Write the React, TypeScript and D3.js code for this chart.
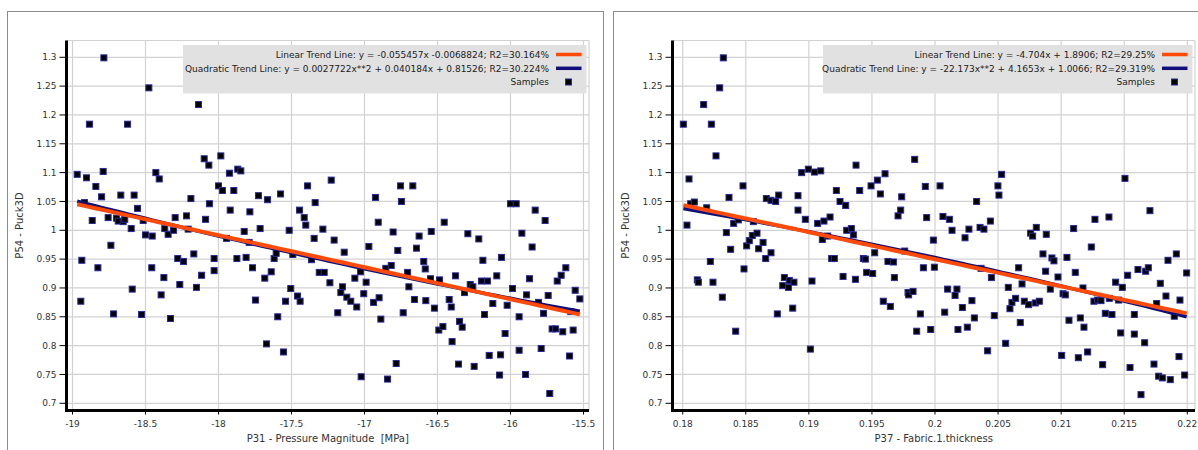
import React from 'react';
import * as d3 from 'd3';

// ---------- data ----------
const leftX = [
  -18.785, -18.477, -18.884, -18.623, -18.137, -18.968, -18.904, -18.84, -18.79, -18.801, -18.669, -18.578, -18.429, -18.406,
  -18.189, -18.0, -17.973, -17.925, -17.895, -18.098, -18.066, -17.984, -17.868, -17.847, -17.726, -17.664, -17.575, -17.39,
  -18.918, -18.865, -18.756, -18.699, -18.687, -18.653, -18.642, -18.555, -18.598, -18.516, -18.5, -18.454, -18.368, -18.345,
  -18.308, -18.297, -18.219, -18.208, -18.089, -18.062, -17.92, -17.945, -17.824, -17.785, -17.79, -17.715, -17.516, -17.445,
  -17.413, -17.402, -17.338, -17.345, -18.737, -18.936, -18.826, -18.591, -18.943, -18.719, -18.527, -18.457, -18.374, -18.393,
  -18.329, -18.279, -18.24, -18.265, -18.169, -18.151, -18.116, -18.03, -18.03, -17.874, -17.811, -17.767, -17.747, -17.683,
  -17.639, -17.619, -17.605, -17.594, -17.671, -17.555, -17.541, -17.505, -17.459, -17.441, -17.491, -17.363, -17.31,
  -17.228, -17.285, -17.208, -17.139, -17.276, -17.237, -17.183, -17.066, -17.027, -16.989, -17.151, -17.162, -17.121, -17.094,
  -17.053, -17.005, -16.97, -16.925, -16.906, -16.938, -16.9, -16.888, -16.854, -16.817, -16.804, -16.772, -16.753, -16.747,
  -16.669, -16.705, -16.696, -16.735, -16.783, -17.023, -16.842, -16.644, -16.626, -16.658, -16.594, -16.584, -16.58, -16.543,
  -16.548, -16.521, -16.491, -16.463, -16.486, -16.454, -16.42, -16.406, -16.4, -16.377, -16.356, -16.349, -16.331, -16.315,
  -16.292, -16.276, -16.258, -16.249, -16.217, -16.199, -16.189, -16.178, -16.158, -16.146, -16.121, -16.094, -16.075, -16.068,
  -16.062, -16.037, -16.023, -16.0, -15.961, -15.986, -15.941, -15.941, -15.922, -15.897, -15.89, -15.87, -15.852, -15.831,
  -15.808, -15.79, -15.774, -15.763, -15.742, -15.731, -15.715, -15.692, -15.68, -15.653, -15.642, -15.621, -15.596, -15.587,
  -15.571, -15.557, -15.525,
];
const leftY = [
  1.299, 1.247, 1.184, 1.184, 1.218, 1.097, 1.091, 1.076, 1.102, 1.058, 1.061, 1.061, 1.1, 1.089,
  1.055, 1.077, 1.069, 1.099, 1.069, 1.124, 1.113, 1.129, 1.106, 1.103, 1.06, 1.053, 1.063, 1.077,
  1.048, 1.017, 1.022, 1.021, 1.016, 1.015, 1.019, 1.038, 1.003, 1.017, 0.992, 0.99, 1.003, 0.993,
  1.0, 1.022, 1.025, 1.002, 1.019, 1.046, 1.035, 0.986, 0.998, 1.032, 0.979, 1.003, 1.0, 1.035,
  1.022, 1.009, 1.048, 0.986, 0.974, 0.948, 0.935, 0.898, 0.877, 0.855, 0.854, 0.935, 0.918, 0.888,
  0.847, 0.951, 0.946, 0.906, 0.959, 0.901, 0.922, 0.951, 0.93, 0.951, 0.953, 0.935, 0.879, 0.917,
  0.928, 0.951, 0.96, 0.85, 0.803, 0.789, 0.877, 0.899, 0.886, 0.877, 0.958, 0.949, 0.927,
  1.087, 1.002, 0.983, 0.962, 0.927, 0.909, 0.857, 0.917, 0.928, 0.91, 0.902, 0.892, 0.884, 0.877,
  0.867, 0.89, 0.972, 1.057, 1.014, 0.875, 0.883, 0.846, 0.934, 0.939, 0.997, 0.965, 1.077, 1.05,
  1.077, 0.927, 0.902, 0.857, 0.769, 0.746, 0.742, 0.969, 0.99, 0.88, 0.946, 0.933, 0.878, 0.998,
  0.916, 0.865, 0.827, 0.833, 0.914, 1.014, 0.88, 0.867, 0.807, 0.921, 0.768, 0.842, 0.832, 0.892,
  0.994, 0.906, 0.902, 0.764, 0.985, 0.912, 0.948, 0.854, 0.912, 0.783, 0.873, 0.921, 0.749, 0.784,
  0.953, 0.821, 0.87, 1.046, 1.046, 0.899, 0.85, 0.792, 0.995, 0.75, 0.888, 0.916, 0.971, 1.035,
  0.875, 0.795, 0.856, 1.017, 0.887, 0.717, 0.829, 0.829, 0.912, 0.922, 0.824, 0.935, 0.782, 0.859,
  0.827, 0.896, 0.881,
];

const rightX = [
  0.18322, 0.18293, 0.18166, 0.18005, 0.18227, 0.18264, 0.1805, 0.18478, 0.18367, 0.18943, 0.18996, 0.19044, 0.19094, 0.19374,
  0.19839, 0.18914, 0.18663, 0.187, 0.18737, 0.18761, 0.19218, 0.19247, 0.19403, 0.19493, 0.19543, 0.19604, 0.19567, 0.19736,
  0.19923,
  0.18063, 0.18092, 0.1819, 0.18034, 0.18404, 0.18441, 0.18346, 0.1838, 0.18219, 0.18116, 0.18124, 0.1824, 0.18314, 0.1842,
  0.18486, 0.18507, 0.18528, 0.18552, 0.18589, 0.1856, 0.18602, 0.18637, 0.18658, 0.187, 0.18914, 0.18972, 0.18806, 0.18793,
  0.18838, 0.18845, 0.18882, 0.1875, 0.18872, 0.19025, 0.19012, 0.1907, 0.1912, 0.19168, 0.19107, 0.19149, 0.19292, 0.193,
  0.19337, 0.19353, 0.19181, 0.19202, 0.19271, 0.19369, 0.19432, 0.19448, 0.19458, 0.19506, 0.19522, 0.1959, 0.19646, 0.19627,
  0.1967, 0.19678, 0.19707, 0.19728, 0.1976, 0.19786, 0.19791, 0.19826, 0.19884, 0.19855, 0.19908, 0.19987, 0.19934, 0.19966,
  0.19995,
  0.2004, 0.20063, 0.20114, 0.20135, 0.20238, 0.20269, 0.2033, 0.20357, 0.20388, 0.20439, 0.20499, 0.20507, 0.20528, 0.20758,
  0.20774, 0.20803, 0.20882, 0.21099, 0.21268, 0.21379, 0.21506, 0.21704,
  0.201, 0.20174, 0.20159, 0.20077, 0.20217, 0.20293, 0.20182, 0.20256, 0.20312, 0.2047, 0.20417, 0.20447, 0.20365, 0.20581,
  0.20594, 0.2061, 0.20639, 0.20663, 0.2069, 0.20676, 0.2056, 0.20708, 0.20742, 0.20795, 0.20827, 0.20856, 0.20877, 0.20927,
  0.20943, 0.20914, 0.20975, 0.21004, 0.21015, 0.21033, 0.21046, 0.21062, 0.21112, 0.21152, 0.21173, 0.21181, 0.21136, 0.2121,
  0.21239, 0.2126, 0.21289, 0.21316, 0.21329, 0.2135, 0.21403, 0.21382, 0.21432, 0.21456, 0.21472, 0.21485, 0.21527, 0.21546,
  0.2158, 0.2158, 0.21609, 0.21633, 0.21662, 0.2167, 0.21691, 0.21736, 0.21757, 0.21773, 0.21802, 0.21786, 0.21831, 0.21847,
  0.21865, 0.21897, 0.21913, 0.21934, 0.21942, 0.21979, 0.21995,
];
const rightY = [
  1.299, 1.247, 1.218, 1.184, 1.184, 1.129, 1.089, 1.077, 1.057, 1.1, 1.106, 1.101, 1.103, 1.113,
  1.123, 1.06, 1.055, 1.052, 1.05, 1.061, 1.069, 1.05, 1.069, 1.077, 1.087, 1.098, 1.063, 1.058,
  1.076,
  1.046, 1.049, 1.039, 1.009, 1.012, 1.018, 0.996, 0.967, 0.946, 0.914, 0.91, 0.91, 0.884, 0.825,
  0.933, 0.973, 0.982, 0.991, 0.995, 1.015, 0.968, 0.979, 0.951, 0.961, 1.035, 1.019, 0.918, 0.904,
  0.901, 0.913, 0.91, 0.855, 0.865, 0.912, 0.794, 1.012, 1.016, 1.023, 0.984, 0.99, 1.043, 1.0,
  1.003, 0.992, 0.951, 0.951, 0.92, 0.915, 0.951, 0.95, 0.927, 0.925, 0.961, 0.877, 0.868, 0.946,
  0.945, 0.918, 1.025, 1.035, 0.964, 0.892, 0.888, 0.894, 0.855, 0.825, 0.935, 0.983, 1.022, 0.828,
  0.936,
  1.077, 1.024, 1.019, 1.0, 0.987, 1.002, 1.05, 1.005, 1.002, 1.016, 1.077, 1.061, 1.097, 0.995,
  0.99, 1.005, 0.993, 1.003, 1.019, 1.023, 1.09, 1.034,
  0.898, 0.898, 0.887, 0.858, 0.866, 0.878, 0.828, 0.832, 0.848, 0.852, 0.791, 0.918, 0.934, 0.901,
  0.864, 0.875, 0.882, 0.935, 0.907, 0.84, 0.804, 0.877, 0.871, 0.874, 0.877, 0.959, 0.929, 0.952,
  0.947, 0.898, 0.919, 0.783, 0.89, 0.888, 0.953, 0.844, 0.927, 0.848, 0.9, 0.832, 0.779, 0.789,
  0.971, 0.877, 0.879, 0.878, 0.767, 0.856, 0.854, 0.882, 0.91, 0.879, 0.822, 0.901, 0.922, 0.762,
  0.854, 0.82, 0.932, 0.715, 0.805, 0.929, 0.935, 0.768, 0.873, 0.747, 0.744, 0.908, 0.886, 0.948,
  0.741, 0.851, 0.959, 0.781, 0.879, 0.749, 0.926,
];

const yTicks = [0.7, 0.75, 0.8, 0.85, 0.9, 0.95, 1, 1.05, 1.1, 1.15, 1.2, 1.25, 1.3];
const yTickLabels = ['0.7', '0.75', '0.8', '0.85', '0.9', '0.95', '1', '1.05', '1.1', '1.15', '1.2', '1.25', '1.3'];
const leftXTicks = [-19, -18.5, -18, -17.5, -17, -16.5, -16, -15.5];
const leftXTickLabels = ['-19', '-18.5', '-18', '-17.5', '-17', '-16.5', '-16', '-15.5'];
const rightXTicks = [0.18, 0.185, 0.19, 0.195, 0.2, 0.205, 0.21, 0.215, 0.22];
const rightXTickLabels = ['0.18', '0.185', '0.19', '0.195', '0.2', '0.205', '0.21', '0.215', '0.22'];

// trend coefficients [c0, c1, c2]
const leftLinear = [-0.0068824, -0.055457];
const leftQuadratic = [0.81526, 0.040184, 0.0027722];
const rightLinear = [1.8906, -4.704];
const rightQuadratic = [1.0066, 4.1653, -22.173];

const leftLegendLines = [
  'Linear Trend Line: y = -0.055457x -0.0068824; R2=30.164%',
  'Quadratic Trend Line: y = 0.0027722x**2 + 0.040184x + 0.81526; R2=30.224%',
  'Samples',
];
const rightLegendLines = [
  'Linear Trend Line: y = -4.704x + 1.8906; R2=29.25%',
  'Quadratic Trend Line: y = -22.173x**2 + 4.1653x + 1.0066; R2=29.319%',
  'Samples',
];

const FONT = 'DejaVu Sans, Verdana, sans-serif';
const ORANGE = '#ff4a0a';
const NAVY = '#10107a';
const GRID = '#d2d2d2';
const TEXT = '#333';

type PanelProps = {
  frameX: number;
  xDomain: [number, number];
  xTicks: number[];
  xTickLabels: string[];
  xs: number[];
  ys: number[];
  lin: number[];
  quad: number[];
  legend: string[];
  legendLeft: number;
  xTitle: string;
};

function Panel(p: PanelProps) {
  const left = p.frameX + 59;
  const right = left + 522.5;
  const top = 40.5;
  const bottom = 410.5;
  const x = d3.scaleLinear().domain(p.xDomain).range([left, right]);
  const y = d3.scaleLinear().domain([0.6875, 1.3291]).range([bottom, top]);
  const xmin = d3.min(p.xs) as number;
  const xmax = d3.max(p.xs) as number;
  const xsLine = d3.range(0, 61).map((i) => xmin + ((xmax - xmin) * i) / 60);
  const linF = (v: number) => p.lin[0] + p.lin[1] * v;
  const quadF = (v: number) => p.quad[0] + p.quad[1] * v + p.quad[2] * v * v;
  const linPath = d3
    .line<number>()
    .x((d) => x(d))
    .y((d) => y(linF(d)))(xsLine) as string;
  const quadPath = d3
    .line<number>()
    .x((d) => x(d))
    .y((d) => y(quadF(d)))(xsLine) as string;

  const legRight = right - 2.5;
  const legTop = 45;
  const legBottom = 93.5;
  const rows = [54.5, 68.3, 82];
  const ms = 6;

  return (
    <g>
      <rect x={p.frameX} y={11.5} width={596} height={460} fill="none" stroke="#8c8c8c" strokeWidth={1} />
      {/* grid */}
      {p.xTicks.map((t) => (
        <line key={'gx' + t} x1={x(t)} x2={x(t)} y1={top} y2={bottom} stroke={GRID} strokeWidth={1.2} />
      ))}
      {yTicks.map((t) => (
        <line key={'gy' + t} x1={left} x2={right} y1={y(t)} y2={y(t)} stroke={GRID} strokeWidth={1.2} />
      ))}
      <line x1={right} x2={right} y1={top} y2={bottom} stroke={GRID} strokeWidth={1.2} />
      <line x1={left} x2={right} y1={top} y2={top} stroke={GRID} strokeWidth={1.2} />
      {/* legend */}
      <rect x={p.legendLeft} y={legTop} width={legRight - p.legendLeft} height={legBottom - legTop} fill="#e1e1e1" />
      {p.legend.map((s, i) => (
        <text key={'lt' + i} x={legRight - 37.5} y={rows[i] + 3.3} textAnchor="end" fontFamily={FONT} fontSize={9} fill="#222">
          {s}
        </text>
      ))}
      <line x1={legRight - 30.5} x2={legRight - 5} y1={rows[0]} y2={rows[0]} stroke={ORANGE} strokeWidth={3.5} />
      <line x1={legRight - 30.5} x2={legRight - 5} y1={rows[1]} y2={rows[1]} stroke={NAVY} strokeWidth={3.5} />
      <rect x={legRight - 18 - ms / 2} y={rows[2] - ms / 2} width={ms} height={ms} fill="#000" stroke="#2a2a9a" strokeWidth={1} />
      {/* points */}
      {p.xs.map((v, i) => (
        <rect
          key={'p' + i}
          x={x(v) - ms / 2}
          y={y(p.ys[i]) - ms / 2}
          width={ms}
          height={ms}
          fill="#000"
          stroke="#2a2a9a"
          strokeWidth={1}
        />
      ))}
      {/* trend lines */}
      <path d={quadPath} fill="none" stroke={NAVY} strokeWidth={3.5} />
      <path d={linPath} fill="none" stroke={ORANGE} strokeWidth={4} />
      {/* axes */}
      <line x1={left} x2={left} y1={top} y2={bottom + 1.5} stroke="#000" strokeWidth={3} />
      <line x1={left - 1.5} x2={right} y1={bottom} y2={bottom} stroke="#000" strokeWidth={3} />
      {yTicks.map((t, i) => (
        <g key={'yt' + t}>
          <line x1={left - 7} x2={left} y1={y(t)} y2={y(t)} stroke="#000" strokeWidth={1} />
          <text x={left - 10} y={y(t) + 3.2} textAnchor="end" fontFamily={FONT} fontSize={9} fill={TEXT}>
            {yTickLabels[i]}
          </text>
        </g>
      ))}
      {p.xTicks.map((t, i) => (
        <g key={'xt' + t}>
          <line x1={x(t)} x2={x(t)} y1={bottom} y2={bottom + 4} stroke="#000" strokeWidth={1} />
          <text x={x(t)} y={bottom + 16} textAnchor="middle" fontFamily={FONT} fontSize={9} fill={TEXT}>
            {p.xTickLabels[i]}
          </text>
        </g>
      ))}
      <text
        x={(left + right) / 2}
        y={bottom + 31}
        textAnchor="middle"
        fontFamily={FONT}
        fontSize={10}
        fill={TEXT}
        style={{ whiteSpace: 'pre' }}
      >
        {p.xTitle}
      </text>
      <text
        transform={`translate(${p.frameX + 15.5},${(top + bottom) / 2}) rotate(-90)`}
        textAnchor="middle"
        fontFamily={FONT}
        fontSize={10}
        fill={TEXT}
      >
        P54 - Puck3D
      </text>
    </g>
  );
}

export default function App() {
  return (
    <svg
      width={1198}
      height={450}
      style={{ position: 'absolute', left: 0, top: 0, background: '#fff' }}
      xmlns="http://www.w3.org/2000/svg"
    >
      <rect width={1198} height={450} fill="#fff" />
      <Panel
        frameX={7.5}
        xDomain={[-19.0411, -15.4623]}
        xTicks={leftXTicks}
        xTickLabels={leftXTickLabels}
        xs={leftX}
        ys={leftY}
        lin={leftLinear}
        quad={leftQuadratic}
        legend={leftLegendLines}
        legendLeft={183}
        xTitle="P31 - Pressure Magnitude  [MPa]"
      />
      <Panel
        frameX={613.5}
        xDomain={[0.179191, 0.220611]}
        xTicks={rightXTicks}
        xTickLabels={rightXTickLabels}
        xs={rightX}
        ys={rightY}
        lin={rightLinear}
        quad={rightQuadratic}
        legend={rightLegendLines}
        legendLeft={823}
        xTitle="P37 - Fabric.1.thickness"
      />
    </svg>
  );
}
